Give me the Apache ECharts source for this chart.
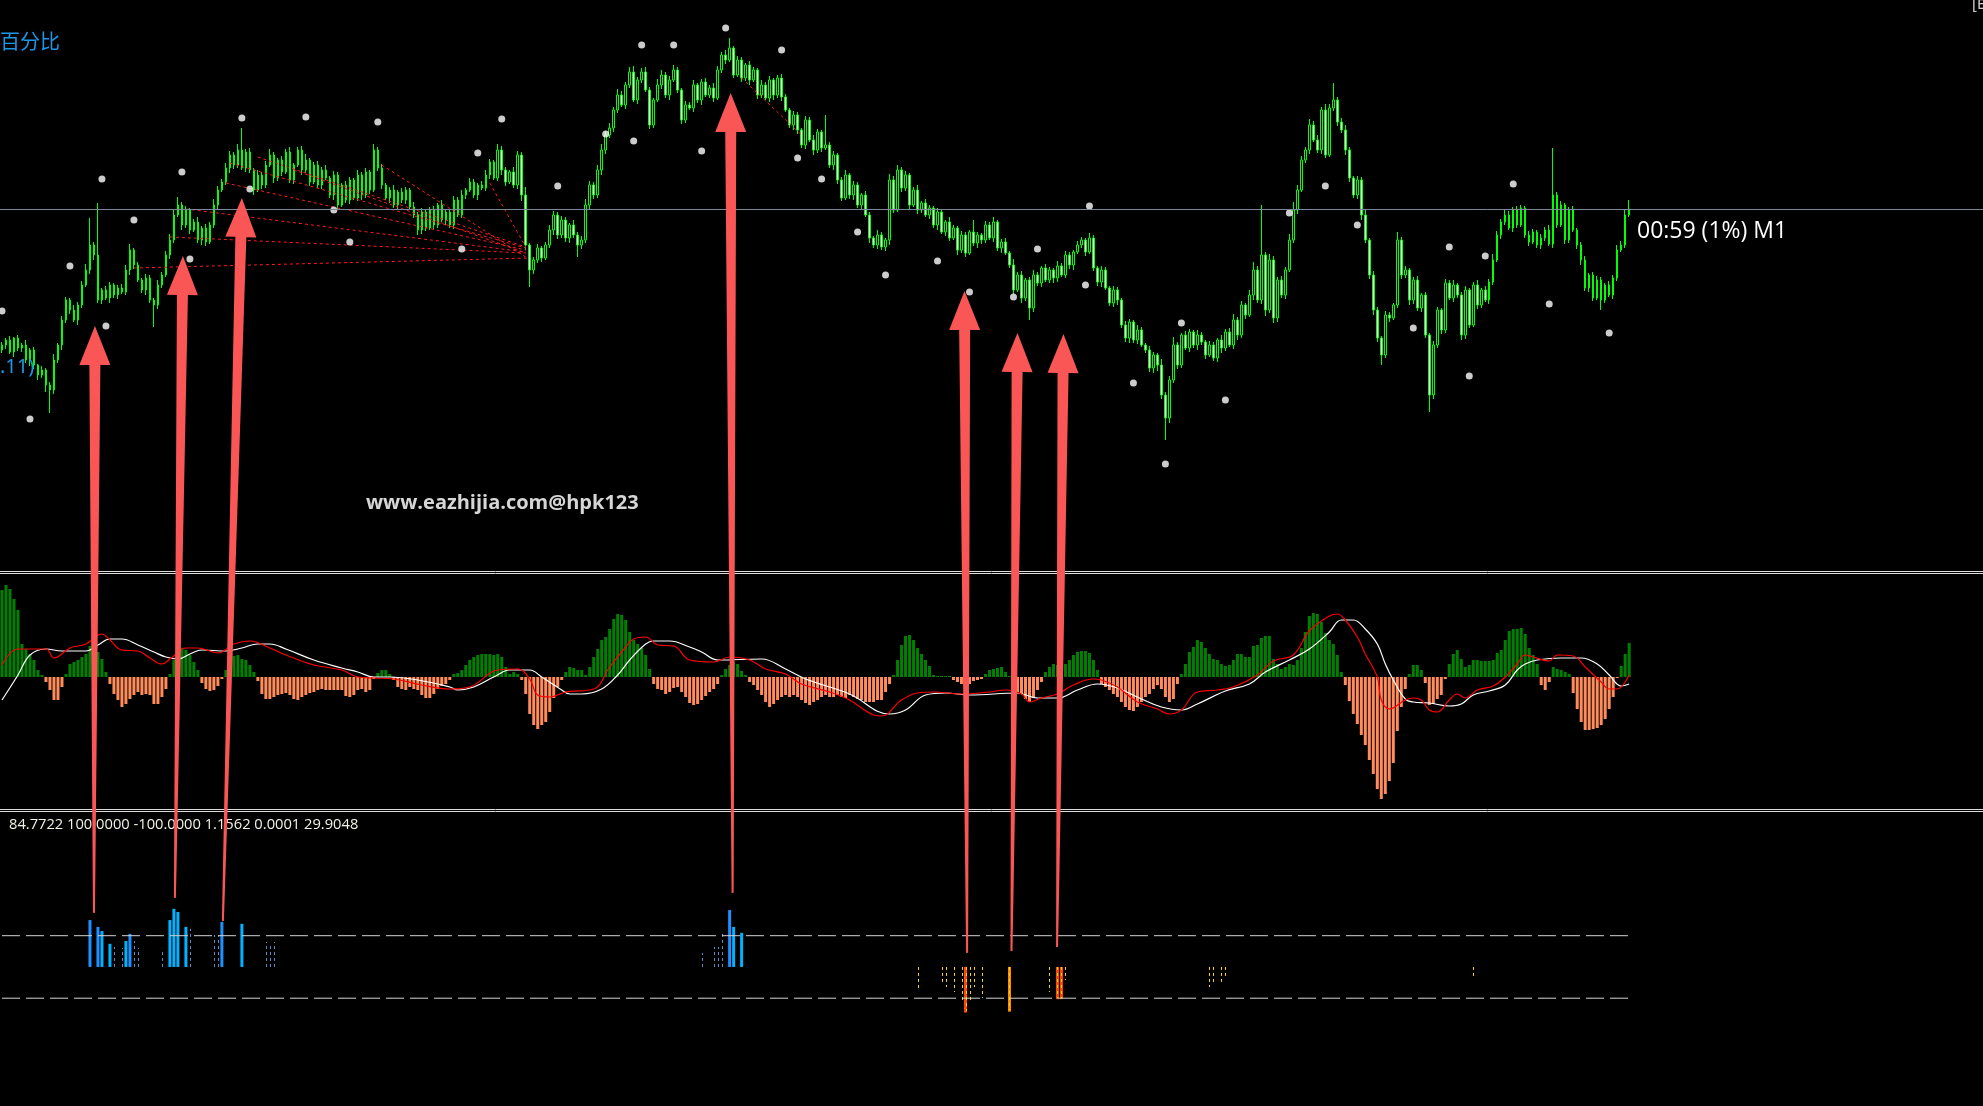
<!DOCTYPE html>
<html>
<head>
    <meta charset="utf-8">
    <title>M1 图表</title>
    <script src="https://cdn.jsdelivr.net/npm/echarts/dist/echarts.min.js"></script>
    <style>
        html, body {
            margin: 0;
            padding: 0;
            height: 100%;
            overflow: hidden;
            background: #000;
        }
        #main {
            width: 1983px;
            height: 1106px;
        }
    </style>
</head>
<body>
    <div id="main"></div>

    <script>
        // ---- price panel (points above 1.14000) ----
        var firstOpen = 650;
        var closes = [
            655,660,648,662,652,655,640,650,635,625, 630,615,610,640,655,680,700,690,680,695,
            715,730,755,745,700,710,702,715,705,712, 708,730,750,735,720,710,722,700,695,715,
            725,745,760,785,795,775,790,770,778,760, 772,758,775,795,810,818,832,845,835,850,
            832,848,830,810,825,815,835,845,822,840, 828,848,820,835,850,830,840,818,835,815,
            830,822,805,825,795,815,800,820,802,825, 805,828,810,850,832,815,802,810,795,808,
            800,810,793,785,770,788,772,790,775,795, 780,788,775,800,785,805,810,818,805,815,
            812,825,838,822,850,830,818,828,815,845, 805,755,730,740,752,742,755,770,785,765,
            780,762,775,765,755,760,795,815,805,830, 850,865,872,890,905,895,915,928,900,920,
            928,910,875,900,915,925,905,920,930,910, 880,895,892,915,900,918,905,912,902,930,
            945,940,952,925,940,922,935,920,930,905, 915,902,920,905,922,903,890,875,885,870,
            855,880,860,850,868,852,855,835,845,820, 802,825,805,815,795,805,785,762,755,765,
            753,760,820,790,830,812,825,795,810,790, 797,785,792,775,788,768,778,762,772,750,
            765,747,768,757,765,760,775,762,778,752, 758,747,735,710,725,702,720,692,725,717,
            732,720,730,722,734,725,745,735,748,755, 760,748,762,732,718,730,712,697,710,700,
            675,662,678,660,670,655,650,632,645,635, 605,582,620,655,635,665,652,668,655,665,
            658,645,655,642,660,652,668,655,680,665, 695,685,705,730,700,745,690,740,682,720,
            705,730,760,790,810,840,850,875,860,850, 890,845,892,900,878,870,850,822,805,820,
            785,760,725,690,662,645,685,682,695,760, 725,730,700,720,692,705,665,605,655,690,
            670,717,702,715,705,665,710,675,715,695, 710,700,718,740,765,778,785,772,790,775,
            792,765,758,768,755,762,770,756,805,775, 795,760,790,770,755,740,712,725,702,720,
            700,715,705,722,750,755,785,791
        ];
        var wickUp = [
            3,2,4,1,3,2,5,2,3,1,4,2,3,6,2,4,3,2,5,3,
            4,6,27,3,52,2,4,3,2,3,4,5,6,2,3,2,4,3,2,5,
            3,4,6,5,8,3,4,2,3,5,2,4,3,6,4,3,5,4,3,6,
            22,3,4,2,5,3,4,6,3,2,4,3,5,2,3,4,6,2,3,4,
            3,5,2,4,3,2,4,3,2,5,3,4,2,6,3,4,2,3,5,2,
            4,3,2,5,3,4,2,3,4,2,5,3,2,4,3,5,2,4,3,2,
            4,5,3,2,6,4,3,2,5,4,3,8,2,3,4,2,3,5,4,3,
            4,3,2,5,3,4,6,4,3,5,6,4,5,3,6,4,3,5,6,3,
            4,5,3,2,6,5,3,4,5,3,2,4,3,5,2,3,4,3,5,4,
            3,5,10,2,4,3,2,4,3,2,5,3,4,2,3,4,3,2,4,3,
            2,4,3,5,3,2,30,3,4,2,3,5,2,4,3,2,4,3,2,5,
            3,2,6,4,5,3,4,2,3,5,2,4,3,2,4,3,2,5,3,2,
            4,3,2,12,3,2,4,3,5,2,3,4,2,6,3,4,2,3,5,3,
            2,4,3,2,5,3,4,3,2,4,3,2,5,3,2,4,3,2,4,3,
            2,4,3,2,5,3,2,4,3,2,6,3,4,8,3,2,4,3,2,5,
            3,2,4,3,2,5,3,4,6,3,4,2,5,8,4,50,3,6,4,3,
            4,3,6,8,5,4,3,6,4,5,3,6,4,17,3,4,5,3,2,4,
            3,5,2,4,3,2,4,3,2,8,3,4,2,3,4,2,3,2,4,3,
            2,4,3,5,2,3,4,2,3,5,2,4,3,6,4,3,5,4,3,4,
            3,2,4,3,2,4,3,5,47,3,4,2,3,4,2,3,4,2,3,4,
            3,2,4,3,5,4,6,9
        ];
        var wickDown = [
            3,4,2,5,3,4,3,6,4,5,3,7,23,4,3,5,3,4,2,5,
            3,2,4,5,3,4,2,5,3,4,2,3,5,4,2,3,5,3,22,4,
            3,2,4,3,2,5,3,4,2,3,5,4,2,3,4,2,3,5,4,3,
            2,4,3,5,2,4,3,2,5,3,4,2,3,4,2,5,3,4,2,3,
            4,2,3,5,4,2,3,4,2,3,5,3,4,2,3,4,2,5,3,4,
            3,4,2,3,5,4,3,2,4,3,2,5,3,4,2,3,4,2,3,5,
            2,3,4,2,3,5,4,2,3,4,6,5,17,4,3,4,2,3,5,4,
            3,4,5,3,12,4,3,5,4,3,5,4,3,4,3,2,4,3,2,4,
            3,2,4,3,2,4,3,5,2,3,4,3,2,4,3,5,2,3,4,2,
            3,4,2,3,2,4,3,5,2,4,3,2,4,5,3,4,2,3,5,4,
            3,4,2,5,3,4,2,3,5,4,3,2,4,5,3,4,2,5,3,4,
            3,4,5,3,2,4,3,5,2,4,3,2,4,3,5,2,4,3,2,5,
            3,4,2,3,5,4,3,2,4,3,5,2,3,4,2,5,3,12,4,3,
            4,2,3,5,4,2,3,4,5,2,3,4,2,3,4,5,2,3,4,5,
            3,4,5,3,4,2,3,4,5,6,4,22,5,3,4,3,2,4,3,5,
            3,4,2,3,4,5,3,2,4,5,3,4,2,5,3,4,6,3,5,4,
            3,4,2,3,4,2,3,4,2,3,4,3,2,3,4,3,5,4,3,4,
            5,3,4,5,4,10,3,4,2,3,4,3,5,4,3,4,3,17,4,3,
            4,3,2,4,3,5,4,3,2,4,3,2,4,3,2,4,3,2,4,3,
            2,3,4,2,3,4,3,2,4,3,2,4,3,2,4,5,3,4,3,2,
            10,3,2,4,3,2,3,2
        ];
        var bidPrice = 791;
        // white fractal dots [bar, price]
        var dots = [
            [0,689],[7,581],[17,734],[25,821],[26,674],[33,780],[45,828],[47,741],[60,882],[62,811],
            [76,883],[83,790],[87,758],[94,878],[115,751],[119,847],[125,881],[139,814],[151,866],[158,859],
            [160,955],[168,955],[175,849],[181,972],[195,950],[199,842],[205,821],[214,768],[221,725],[234,739],
            [242,708],[253,703],[259,751],[271,715],[272,794],[283,617],[291,536],[295,677],[306,600],[322,787],
            [331,814],[339,775],[353,672],[362,753],[367,624],[371,744],[378,816],[387,696],[402,667]
        ];
        // red dashed trend lines [[bar, price], [bar, price]]
        var trendLines = [
            [[33,732],[132,742]], [[42,763],[131,747]], [[46,791],[131,748]],
            [[56,817],[131,750]], [[57,837],[131,752]], [[64,843],[131,753]],
            [[73,830],[131,747]], [[95,835],[131,743]], [[122,817],[131,753]],
            [[185,922],[200,865]]
        ];

        // ---- MACD panel ----
        var macdHist = [
            87,92,88,78,67,33,28,23,17,7,2,
            -5,-13,-23,-23,-10,
            3,13,15,17,20,23,31,28,25,18,5,
            -7,-17,-23,-30,-27,-22,-18,-15,-18,-17,-18,-27,-27,-20,-12,
            3,17,27,29,27,22,15,7,
            -6,-12,-14,-13,-9,-2,
            7,17,21,22,18,17,12,5,
            -4,-17,-22,-22,-20,-18,-17,-16,-18,-22,-23,-20,-18,-16,-15,-13,-12,-13,-13,-13,-13,-13,-19,-20,-18,-13,-12,-15,-13,
            -2,
            4,7,7,3,
            -3,-10,-12,-13,-10,-12,-13,-18,-21,-21,-17,-12,-9,-7,-3,
            3,4,7,12,17,20,22,23,23,23,22,23,20,10,3,5,3,
            -3,-17,-37,-48,-52,-48,-45,-35,-21,-10,-3,
            5,10,9,7,7,2,10,20,28,37,40,48,58,63,62,57,45,37,33,29,22,8,
            -7,-12,-13,-17,-15,-11,-10,-15,-20,-26,-28,-27,-23,-19,-15,-12,-7,
            2,8,12,15,13,6,2,
            -5,-8,-13,-18,-25,-30,-27,-23,-20,-18,-20,-18,-20,-23,-26,-28,-25,-23,-20,-18,-20,-20,-18,-20,-21,-18,-20,-22,-23,-25,-25,-25,-23,-23,-15,-7,
            2,17,32,41,42,37,29,23,17,11,2,
            1,1,1,1,
            -3,-5,-7,-8,-7,-4,-3,-2,
            3,7,8,9,10,5,1,
            -12,-15,-17,-22,-25,-20,-13,-5,
            5,10,13,12,7,13,17,22,25,26,26,24,17,7,
            -7,-10,-13,-17,-20,-25,-30,-33,-34,-30,-25,-20,-17,-12,-8,-12,-20,-25,-22,-7,
            3,13,25,30,37,35,29,23,18,17,13,11,12,17,23,23,20,20,31,32,39,41,41,18,13,8,10,13,12,17,29,45,61,64,63,55,44,37,33,22,5,
            -8,-24,-37,-47,-58,-68,-83,-97,-112,-122,-117,-104,-86,-54,-30,-12,
            3,12,12,7,
            -6,-28,-27,-22,-18,-2,
            13,23,27,18,10,12,17,17,16,16,16,17,24,27,37,46,48,48,49,43,29,22,13,
            -8,-13,-5,
            10,8,7,5,3,
            -16,-32,-45,-53,-53,-52,-51,-48,-42,-32,-20,
            -1,
            11,23,34
        ];
        var macdWhite = [
            [0,-23],[4,2],[7,22],[11,28],[15,26],[21,26],[24,32],[27,38],[30,38],[34,32],[38,25],[41,20],
            [44,18],[47,23],[50,27],[56,26],[60,29],[64,33],[67,33],[71,28],[78,17],[85,9],[89,5],[93,0],
            [97,0],[104,-3],[112,-10],[114,-13],[118,-10],[123,0],[127,7],[132,7],[135,0],[140,-13],[142,-17],
            [145,-17],[150,-12],[154,2],[157,17],[161,33],[163,36],[167,36],[172,30],[175,25],[179,17],[190,18],
            [196,8],[201,-2],[212,-17],[222,-37],[226,-33],[231,-18],[236,-16],[242,-18],[254,-16],[259,-21],
            [264,-21],[269,-13],[274,-7],[279,-11],[285,-22],[290,-30],[295,-33],[299,-27],[306,-14],[312,-7],
            [316,5],[322,17],[327,28],[332,45],[335,57],[338,57],[341,48],[344,33],[346,13],[348,-3],[351,-22],
            [353,-25],[357,-26],[362,-29],[365,-27],[368,-18],[372,-14],[376,-8],[379,7],[381,13],[384,17],
            [390,19],[395,19],[399,13],[402,2],[405,-9],[407,-7]
        ];
        var macdRed = [
            [0,12],[4,28],[11,28],[13,19],[17,29],[21,33],[25,43],[27,37],[30,27],[34,26],[37,19],[40,13],
            [42,18],[46,29],[49,29],[54,24],[58,33],[62,36],[67,29],[71,22],[78,12],[85,7],[89,0],[93,-1],
            [98,-2],[105,-8],[112,-12],[117,-10],[124,7],[129,8],[132,-2],[134,-18],[137,-20],[141,-15],
            [148,-12],[152,10],[156,30],[158,38],[161,40],[164,32],[168,31],[172,17],[178,15],[182,20],
            [187,17],[191,8],[196,3],[200,-7],[207,-15],[212,-23],[218,-38],[220,-39],[225,-23],[229,-16],
            [233,-15],[240,-17],[247,-15],[251,-13],[255,-17],[257,-25],[260,-21],[264,-17],[268,-8],[273,-2],
            [275,-3],[279,-10],[284,-25],[289,-32],[292,-37],[295,-33],[299,-15],[304,-13],[308,-10],[314,2],
            [318,16],[323,22],[327,46],[332,61],[334,63],[336,57],[339,40],[341,23],[344,0],[345,-23],[347,-32],
            [351,-23],[353,-21],[355,-23],[357,-33],[359,-35],[362,-23],[364,-17],[366,-21],[369,-13],[373,-9],
            [376,0],[379,13],[381,22],[383,20],[387,16],[389,22],[393,21],[396,10],[400,-5],[402,-12],
            [404,-12],[407,2]
        ];

        // ---- oscillator panel ----
        var oscLevels = [100, -100];
        var blueBars = [[22,150],[24,128],[32,106],[55,144],[182,182]];
        var cyanBars = [[25,115],[27,74],[31,83],[42,150],[43,186],[44,176],[46,128],[60,138],[183,128],[185,109]];
        var redBars = [[241,-146],[264,-103],[265,-103]];
        var orangeBars = [[252,-143]];
        var blueSpikes = [[28,64],[30,61],[33,83],[34,61],[40,58],[47,122],[53,102],[54,102],[66,80],[67,70],
                          [68,80],[175,45],[178,64],[179,64],[180,115]];
        var goldSpikes = [[229,-67],[235,-48],[236,-64],[238,-80],[240,-106],[241,-140],[242,-106],[243,-64],
                          [245,-99],[252,-138],[262,-80],[264,-100],[265,-100],[266,-42],[302,-64],[303,-48],
                          [305,-48],[306,-29],[368,-29]];
        var oscLabel = '84.7722 100.0000 -100.0000 1.1562 0.0001 29.9048';

        // arrows: tip in price panel [bar, price], tail in oscillator panel [bar, value]
        var arrows = [
            {tip: [23.25, 674], tail: [23, 173]},
            {tip: [45.25, 744], tail: [43.25, 221]},
            {tip: [60, 802], tail: [55.25, 147]},
            {tip: [182.25, 907], tail: [182.75, 237]},
            {tip: [240.75, 709], tail: [241.4, 45]},
            {tip: [254, 667], tail: [252.5, 51]},
            {tip: [265.5, 666], tail: [263.9, 64]}
        ];

        var slotCount = 496;
        var slots = [];
        for (var s = 0; s < slotCount; s++) slots.push(String(s));

        // M1 bars open where the previous bar closed
        var candles = closes.map(function (c, i) {
            var o = i === 0 ? firstOpen : closes[i - 1];
            return [o, c, Math.min(o, c) - wickDown[i], Math.max(o, c) + wickUp[i]];
        });

        function axisX(gridIndex, position) {
            return {
                type: 'category', gridIndex: gridIndex, position: position, data: slots, boundaryGap: true,
                axisLine: {show: true, onZero: false, lineStyle: {color: '#dcdcdc', width: 1}},
                axisTick: {show: false}, axisLabel: {show: false}, splitLine: {show: false}
            };
        }

        function spikeRenderer(color) {
            return function (params, api) {
                var base = api.coord([api.value(0), 0]);
                var top = api.coord([api.value(0), api.value(1)]);
                var x = Math.round(base[0]) + 0.5;
                return {
                    type: 'line',
                    shape: {x1: x, y1: base[1], x2: x, y2: top[1]},
                    style: {stroke: color, lineWidth: 1, lineDash: [3, 3]}
                };
            };
        }

        function colored(list, color) {
            return list.map(function (d) { return {value: d, itemStyle: {color: color}}; });
        }

        var series = [
            {
                type: 'candlestick', xAxisIndex: 0, yAxisIndex: 0, data: candles, barWidth: 2, z: 2,
                itemStyle: {
                    color: '#000', color0: '#fff',
                    borderColor: '#00ff00', borderColor0: '#00ff00', borderColorDoji: '#00ff00', borderWidth: 1
                },
                markLine: {
                    silent: true, symbol: ['none', 'none'], label: {show: false},
                    lineStyle: {color: '#7b8a99', type: 'solid', width: 1},
                    data: [{yAxis: bidPrice}]
                }
            },
            {
                type: 'scatter', xAxisIndex: 0, yAxisIndex: 0, data: dots, symbolSize: 7, z: 4,
                itemStyle: {color: '#fff'}
            }
        ];
        trendLines.forEach(function (seg) {
            series.push({
                type: 'line', xAxisIndex: 0, yAxisIndex: 0, data: seg, symbol: 'none', z: 3,
                lineStyle: {color: '#ff1a1a', width: 1, type: [3, 3]}
            });
        });
        series.push(
            {
                type: 'bar', xAxisIndex: 1, yAxisIndex: 1, data: macdHist, barWidth: 3,
                itemStyle: {color: function (p) { return p.value >= 0 ? '#008000' : '#ff8c5a'; }}
            },
            {
                type: 'line', xAxisIndex: 1, yAxisIndex: 1, data: macdWhite, smooth: 0.4, symbol: 'none', z: 3,
                lineStyle: {color: '#ffffff', width: 1.2}
            },
            {
                type: 'line', xAxisIndex: 1, yAxisIndex: 1, data: macdRed, smooth: 0.4, symbol: 'none', z: 3,
                lineStyle: {color: '#ff0000', width: 1.2}
            }
        );
        oscLevels.forEach(function (lv) {
            series.push({
                type: 'line', xAxisIndex: 3, yAxisIndex: 2, data: [[0, lv], [closes.length - 1, lv]],
                symbol: 'none', lineStyle: {color: '#d4d4d4', width: 1, type: [18, 6]}
            });
        });
        series.push(
            {
                type: 'bar', xAxisIndex: 3, yAxisIndex: 2, barWidth: 3,
                data: colored(blueBars, '#1e90ff').concat(colored(cyanBars, '#00b2ff'),
                    colored(redBars, '#ff4500'), colored(orangeBars, '#ff8c00'))
            },
            {
                type: 'custom', xAxisIndex: 3, yAxisIndex: 2, data: blueSpikes, z: 3,
                renderItem: spikeRenderer('#5b8fc4')
            },
            {
                type: 'custom', xAxisIndex: 3, yAxisIndex: 2, data: goldSpikes, z: 3,
                renderItem: spikeRenderer('#ffd700')
            }
        );

        var myChart = echarts.init(document.getElementById('main'));
        myChart.setOption({
            backgroundColor: '#000',
            animation: false,
            grid: [
                {left: 0, top: 0, width: 1983, height: 571, outerBoundsMode: 'none'},
                {left: 0, top: 573, width: 1983, height: 236, outerBoundsMode: 'none'},
                {left: 0, top: 811, width: 1983, height: 295, outerBoundsMode: 'none'}
            ],
            xAxis: [axisX(0, 'bottom'), axisX(1, 'top'), axisX(1, 'bottom'), axisX(2, 'top')],
            yAxis: [
                {type: 'value', gridIndex: 0, min: 429, max: 1000, show: false, splitLine: {show: false}},
                {type: 'value', gridIndex: 1, min: -132, max: 104, show: false, splitLine: {show: false}},
                {type: 'value', gridIndex: 2, min: -445, max: 499, show: false, splitLine: {show: false}}
            ],
            series: series
        });

        // pixel position of a fractional bar index inside a grid
        function toPx(gridIndex, bar, value) {
            var b0 = Math.floor(bar);
            var a = myChart.convertToPixel({gridIndex: gridIndex}, [b0, value]);
            var b = myChart.convertToPixel({gridIndex: gridIndex}, [b0 + 1, value]);
            return [a[0] + (b[0] - a[0]) * (bar - b0), a[1]];
        }

        function arrowPoints(tip, tail) {
            var dx = tip[0] - tail[0], dy = tip[1] - tail[1];
            var len = Math.sqrt(dx * dx + dy * dy);
            var ux = dx / len, uy = dy / len, nx = -uy, ny = ux;
            var hx = tip[0] - ux * 39, hy = tip[1] - uy * 39;
            return [
                tip,
                [hx + nx * 15.5, hy + ny * 15.5],
                [hx + nx * 5.5, hy + ny * 5.5],
                [tail[0] + nx, tail[1] + ny],
                [tail[0] - nx, tail[1] - ny],
                [hx - nx * 5.5, hy - ny * 5.5],
                [hx - nx * 15.5, hy - ny * 15.5]
            ];
        }

        var graphics = [
            {type: 'text', x: 0, y: 41, z: 10, style: {text: '百分比', fill: '#1e96e6', font: '20px "Noto Sans CJK SC"', verticalAlign: 'middle'}},
            {type: 'text', x: 0, y: 367, z: 10, style: {text: '.11)', fill: '#1e96e6', font: '20px "Noto Sans"', verticalAlign: 'middle'}},
            {type: 'text', x: 1972, y: 5, z: 10, style: {text: '[E', fill: '#d0d0d0', font: '15px "Noto Sans"', verticalAlign: 'middle'}},
            {type: 'text', x: 366, y: 503, z: 10, style: {text: 'www.eazhijia.com@hpk123', fill: '#d6d6d6', font: 'bold 20px "Open Sans"', verticalAlign: 'middle'}},
            {type: 'text', x: 1637, y: 231, z: 10, style: {text: '00:59 (1%) M1', fill: '#ffffff', font: '23px "Open Sans"', verticalAlign: 'middle'}},
            {type: 'text', x: 9, y: 825, z: 10, style: {text: oscLabel, fill: '#f2f2e8', font: '14.7px "Open Sans"', verticalAlign: 'middle'}}
        ];
        arrows.forEach(function (a) {
            var tip = toPx(0, a.tip[0], a.tip[1]);
            var tail = toPx(2, a.tail[0], a.tail[1]);
            graphics.push({
                type: 'polygon', z: 20, silent: true,
                shape: {points: arrowPoints(tip, tail)},
                style: {fill: '#fa5656'}
            });
        });
        myChart.setOption({graphic: graphics});

        window.addEventListener('resize', function () {
            myChart.resize();
        });
    </script>
</body>
</html>
